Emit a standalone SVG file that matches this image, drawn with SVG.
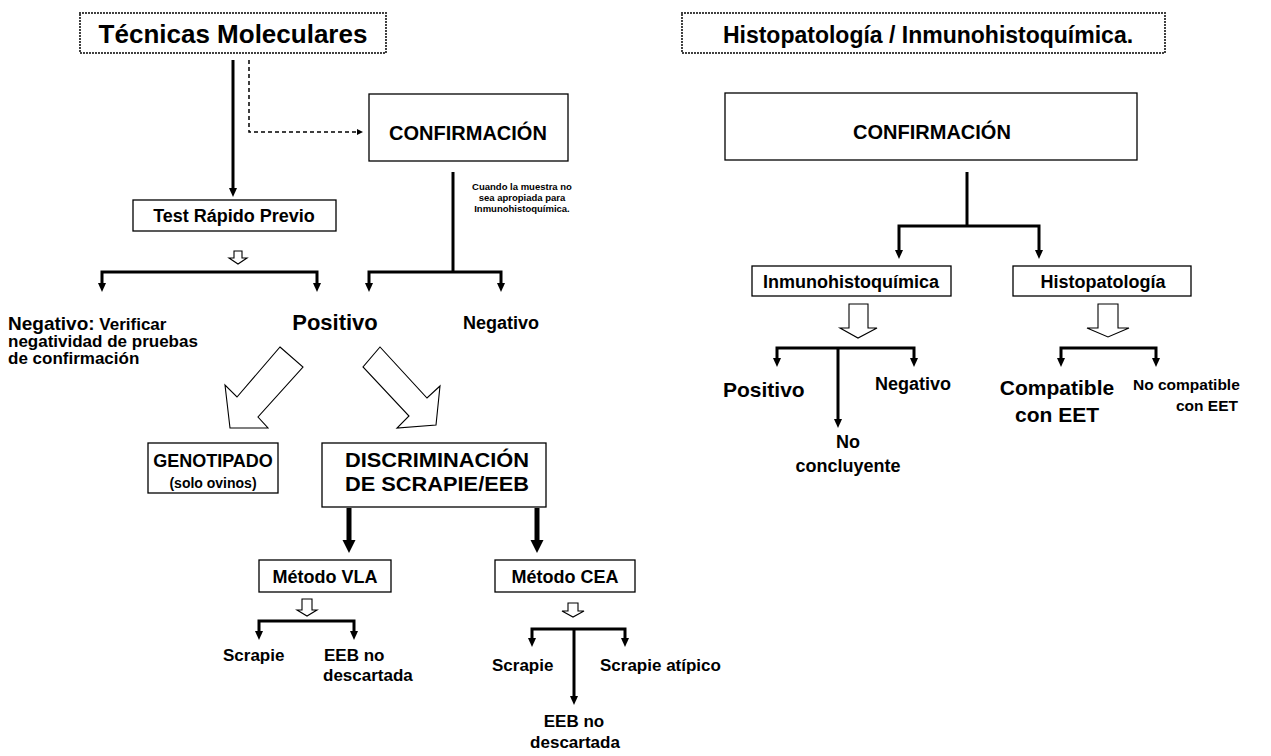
<svg xmlns="http://www.w3.org/2000/svg" width="1271" height="756" viewBox="0 0 1271 756">
<defs>
<style>
text{font-family:"Liberation Sans",Arial,sans-serif;font-weight:bold;fill:#000}
.box{fill:#fff;stroke:#000;stroke-width:1.3}
.title{fill:none;stroke:#000;stroke-width:2;stroke-dasharray:0 3;stroke-linecap:round}
.c{fill:none;stroke:#000;stroke-width:3}
.ct{fill:none;stroke:#000;stroke-width:5}
.dash{fill:none;stroke:#000;stroke-width:1.5;stroke-dasharray:4 3}
.hollow{fill:#fff;stroke:#000;stroke-width:1.1;stroke-linejoin:miter}
.m{text-anchor:middle}
</style>
<marker id="ah" markerUnits="userSpaceOnUse" markerWidth="10" markerHeight="9" refX="3" refY="4" orient="auto" overflow="visible"><path d="M0,0 L9,4 L0,8 z" fill="#000"/></marker>
<marker id="aht" markerUnits="userSpaceOnUse" markerWidth="14" markerHeight="13" refX="3" refY="6.5" orient="auto" overflow="visible"><path d="M0,0 L13,6.5 L0,13 z" fill="#000"/></marker>
<marker id="ahs" markerUnits="userSpaceOnUse" markerWidth="7" markerHeight="6" refX="1" refY="3" orient="auto" overflow="visible"><path d="M0,0 L6,3 L0,6 z" fill="#000"/></marker>
</defs>
<rect width="1271" height="756" fill="#fff"/>

<g id="connectors">
<path class="c" d="M233,60 V191" marker-end="url(#ah)"/>
<path class="dash" d="M249,60 V132 H358" marker-end="url(#ahs)"/>
<path class="c" d="M453,172 V272"/>
<path class="c" d="M453,272 H369 V286" marker-end="url(#ah)"/>
<path class="c" d="M453,272 H501 V286" marker-end="url(#ah)"/>
<path class="c" d="M210,272 H102 V286" marker-end="url(#ah)"/>
<path class="c" d="M210,272 H317 V286" marker-end="url(#ah)"/>
<path class="ct" d="M349,508 V543" marker-end="url(#aht)"/>
<path class="ct" d="M537,508 V543" marker-end="url(#aht)"/>
<path class="c" d="M307,621 H259 V634" marker-end="url(#ah)"/>
<path class="c" d="M307,621 H354 V634" marker-end="url(#ah)"/>
<path class="c" d="M574,629 H532 V641" marker-end="url(#ah)"/>
<path class="c" d="M574,629 H625 V641" marker-end="url(#ah)"/>
<path class="c" d="M574,629 V699" marker-end="url(#ah)"/>
<path class="c" d="M967,172 V226"/>
<path class="c" d="M967,226 H899 V253" marker-end="url(#ah)"/>
<path class="c" d="M967,226 H1039 V253" marker-end="url(#ah)"/>
<path class="c" d="M838,348 H777 V361" marker-end="url(#ah)"/>
<path class="c" d="M838,348 H914 V361" marker-end="url(#ah)"/>
<path class="c" d="M838,348 V422" marker-end="url(#ah)"/>
<path class="c" d="M1108,348 H1061 V361" marker-end="url(#ah)"/>
<path class="c" d="M1108,348 H1156 V361" marker-end="url(#ah)"/>
<polygon class="hollow" points="234,251 242,251 242,258 247,258 238,264 229,258 234,258"/>
<polygon class="hollow" points="302,599 312,599 312,610 317,610 307,616 297,610 302,610"/>
<polygon class="hollow" points="568,603 578,603 578,611 584,611 573,617 562,611 568,611"/>
<polygon class="hollow" points="849,304 868,304 868,328 877,328 858,338 840,328 849,328"/>
<polygon class="hollow" points="1098,304 1118,304 1118,328 1129,328 1108,337 1087,328 1098,328"/>
<polygon class="hollow" points="280,347 303,367 258,417 268,428 230,428 225,385 237,397"/>
<polygon class="hollow" points="380,347 363,367 409,416 397,428 436,425 440,386 427,398"/>
</g>

<g id="n-tecnicas">
<rect class="title" x="80" y="13" width="306" height="40"/>
<text class="m" x="233" y="43" font-size="26">Técnicas Moleculares</text>
</g>
<g id="n-histo-title">
<rect class="title" x="682" y="13" width="483" height="40"/>
<text class="m" x="928" y="43" font-size="23">Histopatología / Inmunohistoquímica.</text>
</g>
<g id="n-conf-left">
<rect class="box" x="369" y="94" width="199" height="67"/>
<text class="m" x="468" y="140" font-size="20">CONFIRMACIÓN</text>
</g>
<g id="n-note">
<text class="m" x="522" y="190" font-size="9.5">Cuando la muestra no</text>
<text class="m" x="522" y="201" font-size="9.5">sea apropiada para</text>
<text class="m" x="522" y="212" font-size="9.5">Inmunohistoquímica.</text>
</g>
<g id="n-test">
<rect class="box" x="133" y="200" width="203" height="31"/>
<text class="m" x="234" y="222" font-size="18">Test Rápido Previo</text>
</g>
<g id="n-negativo-verif">
<text x="8" y="330" font-size="17"><tspan font-size="19">Negativo:</tspan> Verificar</text>
<text x="8" y="347" font-size="17">negatividad de pruebas</text>
<text x="8" y="364" font-size="17">de confirmación</text>
</g>
<g id="n-positivo-left">
<text class="m" x="335" y="330" font-size="22">Positivo</text>
</g>
<g id="n-negativo-left">
<text class="m" x="501" y="329" font-size="18">Negativo</text>
</g>
<g id="n-genotipado">
<rect class="box" x="148" y="443" width="130" height="50"/>
<text class="m" x="213" y="467" font-size="18">GENOTIPADO</text>
<text class="m" x="213" y="488" font-size="14">(solo ovinos)</text>
</g>
<g id="n-discriminacion">
<rect class="box" x="322" y="443" width="224" height="64"/>
<text class="m" x="437" y="467" font-size="20" textLength="184" lengthAdjust="spacingAndGlyphs">DISCRIMINACIÓN</text>
<text class="m" x="437" y="491" font-size="20" textLength="184" lengthAdjust="spacingAndGlyphs">DE SCRAPIE/EEB</text>
</g>
<g id="n-vla">
<rect class="box" x="259" y="560" width="132" height="32"/>
<text class="m" x="325" y="583" font-size="18">Método VLA</text>
</g>
<g id="n-cea">
<rect class="box" x="495" y="560" width="140" height="32"/>
<text class="m" x="565" y="583" font-size="18">Método CEA</text>
</g>
<g id="n-vla-results">
<text x="223" y="661" font-size="17">Scrapie</text>
<text x="324" y="661" font-size="17">EEB no</text>
<text x="323" y="681" font-size="17">descartada</text>
</g>
<g id="n-cea-results">
<text x="492" y="671" font-size="17">Scrapie</text>
<text x="600" y="671" font-size="17">Scrapie atípico</text>
<text class="m" x="574" y="727" font-size="17">EEB no</text>
<text class="m" x="575" y="748" font-size="17">descartada</text>
</g>
<g id="n-conf-right">
<rect class="box" x="725" y="93" width="412" height="67"/>
<text class="m" x="932" y="139" font-size="20">CONFIRMACIÓN</text>
</g>
<g id="n-inmuno">
<rect class="box" x="752" y="266" width="199" height="30"/>
<text class="m" x="851" y="288" font-size="18">Inmunohistoquímica</text>
</g>
<g id="n-histo">
<rect class="box" x="1013" y="266" width="178" height="30"/>
<text class="m" x="1103" y="288" font-size="18">Histopatología</text>
</g>
<g id="n-inmuno-results">
<text x="723" y="397" font-size="21">Positivo</text>
<text x="875" y="390" font-size="18">Negativo</text>
<text class="m" x="848" y="448" font-size="18">No</text>
<text class="m" x="848" y="472" font-size="18">concluyente</text>
</g>
<g id="n-histo-results">
<text class="m" x="1057" y="395" font-size="21">Compatible</text>
<text class="m" x="1057" y="422" font-size="21">con EET</text>
<text x="1133" y="390" font-size="15.5">No compatible</text>
<text x="1238" y="411" font-size="15.5" text-anchor="end">con EET</text>
</g>
</svg>
